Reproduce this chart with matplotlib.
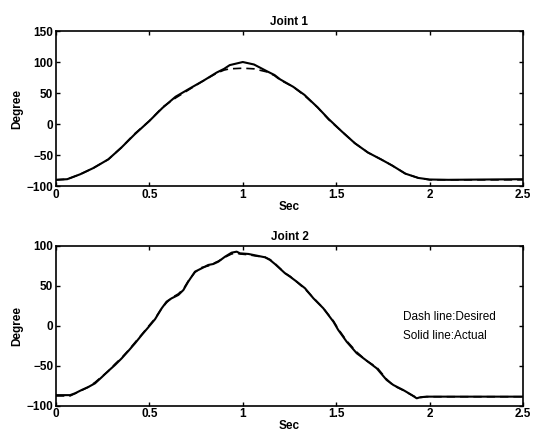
import matplotlib
matplotlib.use("Agg")
import matplotlib.pyplot as plt

plt.rcParams['font.family'] = ['Liberation Sans', 'DejaVu Sans']

# Joint 1: time (s) and angle (deg)
t1 = [0, 0.06, 0.13, 0.2, 0.28, 0.35, 0.42, 0.5, 0.57, 0.64, 0.72, 0.79, 0.86,
      0.9, 0.93, 1.0, 1.06, 1.13, 1.17, 1.2, 1.27, 1.33, 1.4, 1.46, 1.53, 1.6,
      1.67, 1.74, 1.8, 1.87, 1.94, 2.0, 2.1, 2.5]
j1_actual = [-90, -89, -81, -71, -57, -38, -17, 5, 26, 44, 58, 70, 83,
             89, 95, 100, 96, 85, 79, 72, 60, 47, 27, 8, -12, -31,
             -46, -57, -67, -80, -87, -89.5, -90, -89]
j1_desired = [-90, -89, -81, -71, -57, -38, -16, 5, 27, 42, 57, 70, 82,
              87, 89, 90, 89, 84, 78, 71, 60, 46, 27, 7, -12, -31,
              -46, -57, -67, -80, -87, -90, -90, -90]

# Joint 2
t2 = [0, 0.075, 0.102, 0.137, 0.173, 0.209, 0.244, 0.28, 0.316, 0.352, 0.387,
      0.423, 0.459, 0.494, 0.53, 0.566, 0.592, 0.619, 0.655, 0.682, 0.708,
      0.744, 0.78, 0.815, 0.842, 0.869, 0.905, 0.94, 0.967, 0.985, 1.03,
      1.083, 1.119, 1.146, 1.172, 1.226, 1.253, 1.289, 1.333, 1.378, 1.431,
      1.485, 1.511, 1.556, 1.61, 1.663, 1.717, 1.77, 1.806, 1.859, 1.904,
      1.931, 1.949, 1.984, 2.5]
j2_actual = [-87, -87, -84.7, -80.6, -76.8, -72.2, -64.7, -56.7, -49.2, -40.8,
             -31.7, -22, -11.6, -2, 8.1, 21.9, 30.2, 34.4, 38.6, 44.8, 55.3,
             67.8, 72, 76.2, 77.4, 80.3, 86.6, 91.6, 92.9, 90.8, 90, 87.5,
             85.8, 82.4, 77.4, 65.8, 61.5, 55.2, 47, 34.4, 21.9, 5.1, -5.3,
             -20, -34.5, -43.8, -53.4, -68, -74.3, -80.6, -86.8, -91, -89.7,
             -88.9, -88.9]
j2_desired = [-88, -88, -85, -81, -77, -71, -64, -57, -48, -40,
              -31, -21, -11, -1, 9, 22, 29, 35, 40, 46, 56,
              67, 73, 75, 78, 81, 86, 90, 91, 90, 89, 87,
              86, 83, 78, 66, 62, 55, 46, 35, 22, 6, -4,
              -19, -33, -44, -52, -67, -75, -81, -87, -90, -90,
              -89, -89]

joints = [
    ("Joint 1", t1, j1_actual, j1_desired, [-100, -50, 0, 50, 100, 150]),
    ("Joint 2", t2, j2_actual, j2_desired, [-100, -50, 0, 50, 100]),
]
xticks = [0, 0.5, 1, 1.5, 2, 2.5]
xticklabels = ["0", "0.5", "1", "1.5", "2", "2.5"]

fig = plt.figure(figsize=(5.4, 4.38), dpi=100)
positions = [[0.1037, 0.5753, 0.8648, 0.3539],
             [0.1037, 0.0742, 0.8648, 0.3642]]

for pos, (title, t, act, des, yticks) in zip(positions, joints):
    ax = fig.add_axes(pos)
    ax.plot(t, des, color='black', lw=1.2, dashes=(5, 3))
    ax.plot(t, act, color='black', lw=1.5)
    ax.set_xlim(0, 2.5)
    ax.set_ylim(yticks[0], yticks[-1])
    ax.set_xticks(xticks)
    ax.set_xticklabels(xticklabels)
    ax.set_yticks(yticks)
    ax.tick_params(direction='in', top=True, right=True, length=3, width=1,
                   labelsize=8.5, pad=2)
    for lbl in ax.get_xticklabels() + ax.get_yticklabels():
        lbl.set_fontweight('bold')
    for sp in ax.spines.values():
        sp.set_linewidth(1.2)
    ax.set_title(title, fontsize=8.5, fontweight='bold', pad=4)
    ax.set_xlabel("Sec", fontsize=8.5, fontweight='bold', labelpad=0)
    ax.set_ylabel("Degree", fontsize=8.5, fontweight='bold', labelpad=2)

ax.text(1.858, 11, "Dash line:Desired", fontsize=8.5, va='center')
ax.text(1.858, -12.5, "Solid line:Actual", fontsize=8.5, va='center')

fig.savefig("out.png", dpi=100)
